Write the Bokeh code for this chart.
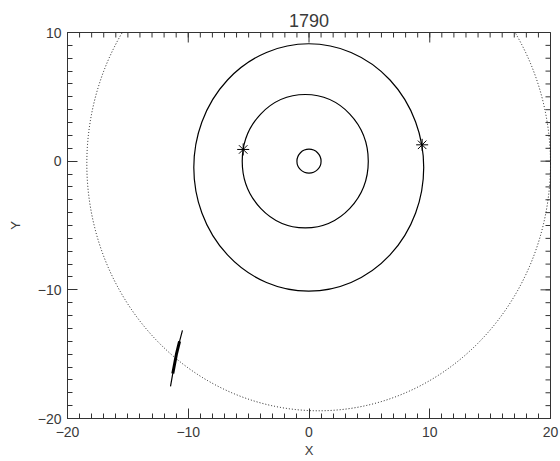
import math
from bokeh.plotting import figure
from bokeh.models import FixedTicker, Range1d
from bokeh.embed import file_html
from bokeh.resources import INLINE

# ---- data ----
title_text = "1790"
orbit_cx = [0.0, -0.31, -0.02]
orbit_cy = [0.0, 0.0, -0.49]
orbit_a = [1.0, 5.22, 9.52]
orbit_b = [0.93, 5.18, 9.62]
outer_cx = [0.8]
outer_cy = [-0.2]
outer_a = [19.2]
outer_b = [19.2]
planet_x = [-5.45, 9.37]
planet_y = [0.91, 1.27]
comet_x = [-11.47, -11.28, -10.98, -10.72, -10.48]
comet_y = [-17.5, -16.5, -15.0, -14.0, -13.15]
x_major = [-20, -10, 0, 10, 20]
x_minor = list(range(-20, 21))
y_major = [-20, -10, 0, 10]
y_minor = list(range(-20, 11))
x_lo, x_hi = -20, 20
y_lo, y_hi = -20, 10

FONT = "Liberation Sans"
TXT = "#3a3a3a"
AX = "#333333"

p = figure(width=560, height=461, x_range=Range1d(x_lo, x_hi), y_range=Range1d(y_lo, y_hi),
           output_backend="svg", toolbar_location=None,
           min_border_left=67, min_border_right=10, min_border_top=32, min_border_bottom=43,
           x_axis_label="X", y_axis_label="Y")
p.grid.visible = False
p.outline_line_color = AX
p.background_fill_color = "white"
p.border_fill_color = "white"

p.title.text = title_text
p.title.align = "center"
p.title.text_font = FONT
p.title.text_font_size = "18px"
p.title.text_font_style = "normal"
p.title.text_color = TXT
p.title.standoff = 11

xt = FixedTicker(ticks=x_major, minor_ticks=x_minor)
yt = FixedTicker(ticks=y_major, minor_ticks=y_minor)

def style(ax, ticker):
    ax.ticker = ticker
    ax.axis_line_color = AX
    ax.major_tick_line_color = AX
    ax.minor_tick_line_color = AX
    ax.major_tick_in = 10
    ax.major_tick_out = 0
    ax.minor_tick_in = 5
    ax.minor_tick_out = 0
    ax.major_label_text_font = FONT
    ax.major_label_text_color = TXT
    ax.major_label_text_font_size = "14px"
    ax.axis_label_text_font = FONT
    ax.axis_label_text_font_style = "normal"
    ax.axis_label_text_color = TXT
    ax.axis_label_text_font_size = "13px"

style(p.xaxis[0], xt)
style(p.yaxis[0], yt)
p.xaxis[0].major_label_standoff = 8
p.xaxis[0].axis_label_standoff = 3
p.yaxis[0].major_label_standoff = 6
p.yaxis[0].axis_label_standoff = 12

# top and right box ticks (half of each centred dash lies inside the frame)
p.scatter(x_minor, [y_hi] * len(x_minor), marker="dash", size=10, angle=math.pi / 2,
          line_color=AX, line_width=1)
p.scatter(x_major, [y_hi] * len(x_major), marker="dash", size=20, angle=math.pi / 2,
          line_color=AX, line_width=1)
p.scatter([x_hi] * len(y_minor), y_minor, marker="dash", size=10,
          line_color=AX, line_width=1)
p.scatter([x_hi] * len(y_major), y_major, marker="dash", size=20,
          line_color=AX, line_width=1)

# orbits
p.ellipse(x=orbit_cx, y=orbit_cy, width=[2 * a for a in orbit_a], height=[2 * b for b in orbit_b],
          fill_color=None, line_color="black", line_width=1.2)
p.ellipse(x=outer_cx, y=outer_cy, width=[2 * a for a in outer_a], height=[2 * b for b in outer_b],
          fill_color=None, line_color="black", line_width=0.9, line_dash="1 2")

# planets
p.scatter(planet_x, planet_y, marker="asterisk", size=12, line_color="black", line_width=1)

# comet track
p.line(comet_x, comet_y, line_color="black", line_width=1.2)
p.line(comet_x[1:4], comet_y[1:4], line_color="black", line_width=3)

open("out.html", "w").write(file_html(p, INLINE))
